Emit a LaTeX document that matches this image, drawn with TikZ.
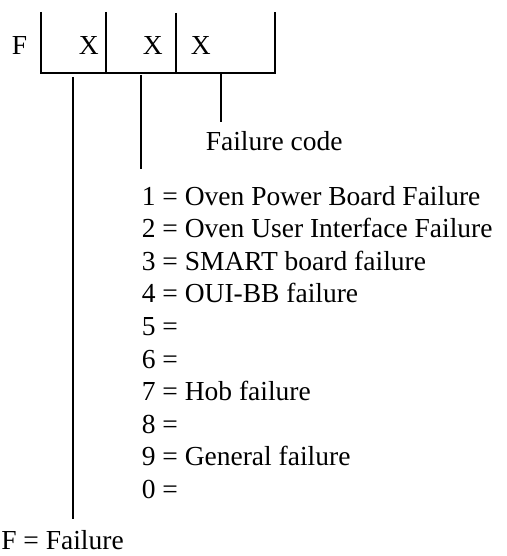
\documentclass[tikz,border=0pt]{standalone}
\usepackage{fontspec}
\setmainfont{Liberation Serif}
\usetikzlibrary{calc}

\begin{document}
\begin{tikzpicture}[x=1pt,y=-1pt,line width=1.6pt,
	txt/.style={anchor=base west,inner sep=0pt,font=\fontsize{27.5}{33}\selectfont},
]
	\useasboundingbox (0,0) rectangle (506,556);
	% code field
	\coordinate (bl) at (41,73);
	\coordinate (br) at (275,73);
	\draw (41,12) -- (bl) -- (br) -- (275,12);
	\draw (106,12) -- (106,73);
	\draw (176,13) -- (176,73);
	\node[txt] (f) at (11,55) {F};
	\node[txt] (x1) at (78,55) {X};
	\node[txt] (x2) at (142,55) {X};
	\node[txt] (x3) at (190,55) {X};
	% legends
	\node[txt] (code) at (205,150) {Failure code};
	\foreach \txt [count=\i, evaluate={\y=205+32.6*(\i-1);}] in {%
		1 = Oven Power Board Failure,
		2 = Oven User Interface Failure,
		3 = SMART board failure,
		4 = OUI-BB failure,
		5 =,
		6 =,
		7 = Hob failure,
		8 =,
		9 = General failure,
		0 =}{
		\node[txt] (c-\i) at (141,\y) {\txt};
	}
	\node[txt] (fail) at (0.5,549) {F = Failure};
	% leaders
	\coordinate (t1) at (73,77);
	\coordinate (t2) at (141,75);
	\coordinate (t3) at (221,74);
	\draw[shorten >=10pt] (t1) -- (fail.north -| t1);
	\draw[shorten >=16pt] (t2) -- (c-1.north -| t2);
	\draw[shorten >=8pt] (t3) -- (code.north -| t3);
\end{tikzpicture}
\end{document}
